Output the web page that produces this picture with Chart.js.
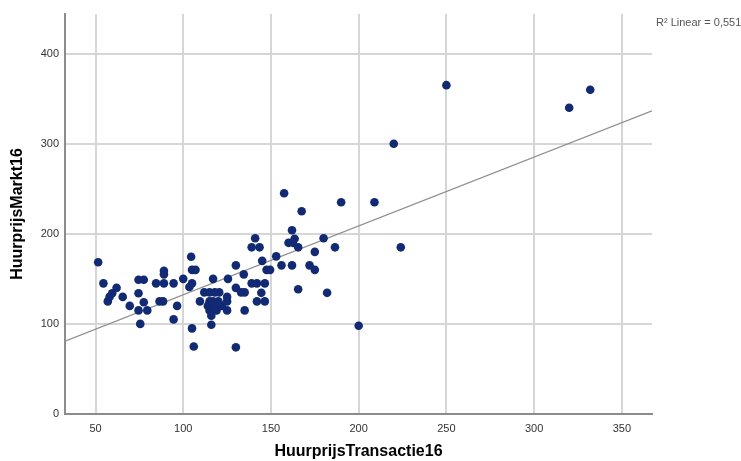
<!DOCTYPE html>
<html><head><meta charset="utf-8">
<script src="https://cdn.jsdelivr.net/npm/chart.js@4"></script>
<style>html,body{margin:0;padding:0;background:#fff}canvas{display:block}</style>
</head><body>
<canvas id="c" width="741" height="461"></canvas>
<script>
const huurprijsTransactie16 = [51.5,54.5,57,58,59.5,62,65.5,69.5,74.5,77.5,74.5,77.5,74.5,79.5,75.5,84.5,89,89,89,94.5,86.5,88.5,96.5,94.5,100,103.5,105,104.5,105,107,105,106,116,116,115,119,114,117,118,122,125,109.5,115,117,120,125,125,112,115,118,120.5,117,125.5,130,133,135,135,134.5,130,130,139,142,146.5,144.5,142,146.5,145,147.5,149.5,153,139,143.5,141,156,162,157.5,162,160,162.5,163.5,165.5,165.5,167.5,172,175,175,180,182,186.5,190,200,209,224,220,250,320,332];
const huurprijsMarkt16 =    [168.5,145,125,130,134,140,130,120,149,149,134,124,115,115,100,145,159,155,145,145,125,125,120,105,150,141,145,174.5,160,160,95,75,99,109,115,115,120,120,117,120,115,125,125,125,125,125,130,135,135,135,135,150,150,140,135,135,115,155,165,74,145,145,145,134.5,125,125,170,160,160,175,185,185,195,165,165,245,204,190,190,194.5,185,138.5,225,165,160,180,195,134.5,185,235,98,235,185,300,365,340,360];
const xTickValues = [50,100,150,200,250,300,350];
const yTickValues = [0,100,200,300,400];
const xRange = [32.6, 367.2];
const yRange = [0, 444];
const fitIntercept = 56.0;
const fitSlope = 0.764;
const rSquaredLabel = 'R\u00B2 Linear = 0,551';
const xTitle = 'HuurprijsTransactie16';
const yTitle = 'HuurprijsMarkt16';

const points = huurprijsTransactie16.map((x, i) => ({x, y: huurprijsMarkt16[i]}));
const fitLine = xRange.map(x => ({x, y: fitIntercept + fitSlope * x}));

const FONT = "'Liberation Sans', Arial, sans-serif";

const r2Plugin = {
  id: 'r2',
  afterDraw(chart) {
    const ctx = chart.ctx;
    ctx.save();
    ctx.font = '11px ' + FONT;
    ctx.fillStyle = '#555555';
    ctx.textAlign = 'left';
    ctx.textBaseline = 'middle';
    ctx.fillText(rSquaredLabel, 656, 23);
    ctx.restore();
  }
};

new Chart(document.getElementById('c'), {
  type: 'scatter',
  data: {
    datasets: [
      {
        label: yTitle,
        data: points,
        backgroundColor: '#112a73',
        borderColor: '#112a73',
        borderWidth: 0,
        pointRadius: 4.3,
        pointHoverRadius: 4.3
      },
      {
        type: 'line',
        label: 'Fit',
        data: fitLine,
        borderColor: '#8f8f8f',
        borderWidth: 1.2,
        pointRadius: 0,
        fill: false,
        showLine: true
      }
    ]
  },
  options: {
    responsive: false,
    animation: false,
    events: [],
    layout: { padding: { left: 8, right: 89, top: 14, bottom: 0 } },
    plugins: { legend: { display: false }, tooltip: { enabled: false } },
    scales: {
      x: {
        type: 'linear',
        min: xRange[0], max: xRange[1],
        afterBuildTicks: s => { s.ticks = xTickValues.map(v => ({value: v})); },
        afterFit: s => { s.height = 47; },
        grid: { color: '#d6d6d6', lineWidth: 2, drawTicks: false },
        border: { color: '#8c8c8c', width: 2 },
        ticks: { padding: 8, color: '#333333', font: { family: FONT, size: 11 }, maxRotation: 0 },
        title: { display: true, text: xTitle, color: '#000000', padding: 0, font: { family: FONT, size: 16, weight: 'bold' } }
      },
      y: {
        type: 'linear',
        min: yRange[0], max: yRange[1],
        afterBuildTicks: s => { s.ticks = yTickValues.map(v => ({value: v})); },
        afterFit: s => { s.width = 57; },
        grid: { color: '#d6d6d6', lineWidth: 2, drawTicks: false },
        border: { color: '#8c8c8c', width: 2 },
        ticks: { padding: 6, color: '#333333', font: { family: FONT, size: 11 } },
        title: { display: true, text: yTitle, color: '#000000', padding: 0, font: { family: FONT, size: 16, weight: 'bold' } }
      }
    }
  },
  plugins: [r2Plugin]
});
</script>
</body></html>
